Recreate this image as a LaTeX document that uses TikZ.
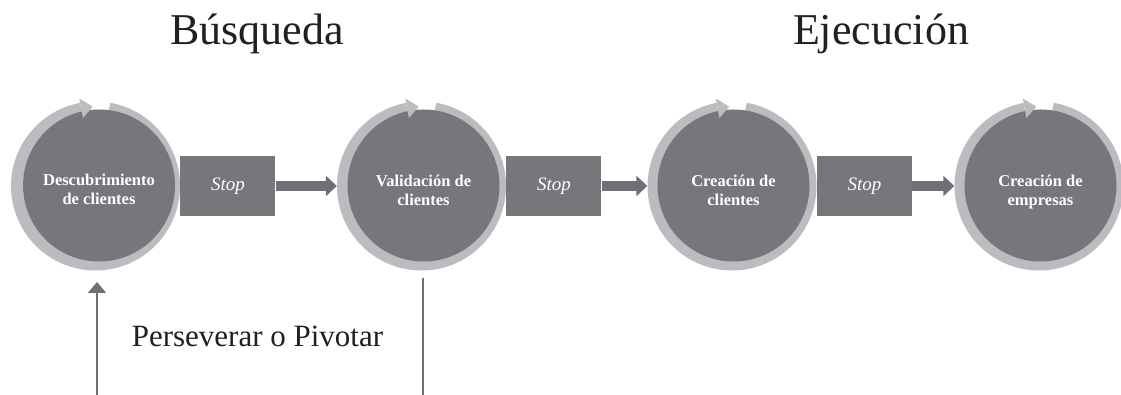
\documentclass[tikz,border=0pt]{standalone}
\usepackage{fontspec}
\setmainfont{Liberation Serif}
\usetikzlibrary{arrows.meta}
\definecolor{darkg}{HTML}{77777B}
\definecolor{ringg}{HTML}{BBBCBF}
\definecolor{arrg}{HTML}{707074}
\definecolor{txt}{HTML}{231F20}
\tikzset{
  ringarc/.style={draw=ringg, line width=12pt},
  ringhead/.style={fill=ringg, draw=none},
  outer/.style={circle, minimum size=169pt, inner sep=0pt, draw=none},
  core/.style={circle, minimum size=152pt, inner sep=0pt, fill=darkg},
  coretext/.style={text=white, inner sep=0pt, text height=0pt, text depth=0pt,
    font=\fontsize{16.5}{19.5}\selectfont\bfseries, align=center},
  stopbox/.style={rectangle, fill=darkg, minimum width=95pt, minimum height=60pt,
    inner sep=0pt, text=white, font=\fontsize{19}{22}\selectfont\itshape, anchor=west},
  flow/.style={draw=arrg, line width=10pt, -{Triangle[width=20pt,length=11pt]}},
  thin/.style={draw=arrg, line width=2pt},
  title/.style={text=txt, font=\fontsize{44}{50}\selectfont, anchor=base},
}
\begin{document}
\begin{tikzpicture}[x=1pt,y=1pt]
\useasboundingbox (0,0) rectangle (1121,395);
% rings (drawn beneath the dark discs)
\foreach \n/\cx in {1/95.5, 2/421.5, 3/732, 4/1039}{
  \node[outer] (o\n) at (\cx,209) {};
  \draw[ringarc] ([shift={(80:78.5)}]\cx,209) arc[start angle=80, end angle=-259.5, radius=78.5];
}
\node[core] (c1) at (99,209.5) {};
\node[core] (c2) at (423.5,209.5) {};
\node[core] (c3) at (733.5,209.5) {};
\node[core] (c4) at (1040.5,209.5) {};
% arrowheads of the rings, on top
\foreach \cx in {95.5, 421.5, 732, 1039}{
  \fill[ringhead] ([shift={(100.5:89)}]\cx,209) -- ([shift={(92:79.5)}]\cx,209)
    -- ([shift={(100.5:69)}]\cx,209) -- cycle;
}
\node[coretext] (l1) at (99,190) {Descubrimiento\\de clientes};
\node[coretext] (l2) at (423.5,189) {Validación de\\clientes};
\node[coretext] (l3) at (733.5,189) {Creación de\\clientes};
\node[coretext] (l4) at (1040.5,189) {Creación de\\empresas};
% stop boxes
\node[stopbox] (s1) at (o1.east) {Stop};
\node[stopbox] (s2) at (o2.east) {Stop};
\node[stopbox] (s3) at (o3.east) {Stop};
\draw[flow] (s1.east) -- (o2.west);
\draw[flow] (s2.east) -- (o3.west);
\draw[flow] (s3.east) -- (o4.west);
% titles
\node[title] (t1) at (257,350) {Búsqueda};
\node[title] (t2) at (881,350) {Ejecución};
% pivot loop
\coordinate (pb1) at (97,0);
\coordinate (pt1) at (97,113);
\coordinate (pt2) at (423,117);
\coordinate (pb2) at (423,0);
\draw[thin, -{Triangle[width=18pt,length=11pt]}] (pb1) -- (pt1);
\draw[thin] (pt2) -- (pb2);
\node[text=txt, font=\fontsize{31}{36}\selectfont, anchor=base] (pp) at (257.5,48) {Perseverar o Pivotar};
\end{tikzpicture}
\end{document}
